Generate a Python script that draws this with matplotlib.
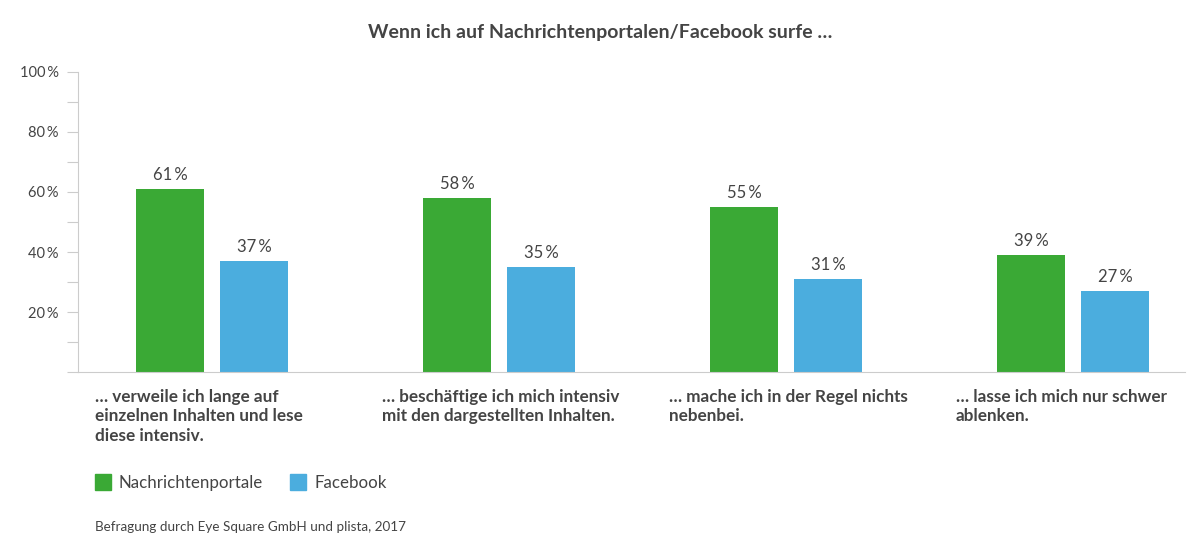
import numpy as np
import matplotlib.pyplot as plt
from matplotlib.patches import Rectangle

# -----------------------------------------------------------
# Data
# -----------------------------------------------------------
categories = [
    "… verweile ich lange auf\neinzelnen Inhalten und lese\ndiese intensiv.",
    "… beschäftige ich mich intensiv\nmit den dargestellten Inhalten.",
    "… mache ich in der Regel nichts\nnebenbei.",
    "… lasse ich mich nur schwer\nablenken.",
]
nachrichten = [61, 58, 55, 39]
facebook = [37, 35, 31, 27]
series_names = ["Nachrichtenportale", "Facebook"]

GREEN = "#3aa935"
BLUE = "#4badde"
TEXT = "#444444"
GRID = "#cccccc"

plt.rcParams["font.family"] = ["Lato", "DejaVu Sans"]

# -----------------------------------------------------------
# Plot
# -----------------------------------------------------------
fig = plt.figure(figsize=(12, 5.55), dpi=100)
ax = fig.add_axes([0.065, 0.3297, 0.9225, 0.5406])

x = np.arange(len(categories))
width = 0.237
offset = 0.146

b1 = ax.bar(x - offset, nachrichten, width, color=GREEN)
b2 = ax.bar(x + offset, facebook, width, color=BLUE)

for bars, vals in ((b1, nachrichten), (b2, facebook)):
    for rect, v in zip(bars, vals):
        ax.text(rect.get_x() + rect.get_width() / 2, v + 2.0, f"{v}\u2009%",
                ha="center", va="bottom", fontsize=12, color=TEXT)

ax.set_xlim(-0.467, 3.39)
ax.set_ylim(0, 100)
ax.set_yticks(np.arange(0, 101, 10))
ax.set_yticklabels(["" if (t % 20 or t == 0) else f"{t}\u2009%" for t in range(0, 101, 10)])
ax.tick_params(axis="y", length=8, color=GRID, labelsize=10.5, labelcolor=TEXT, pad=6)
ax.set_xticks([])

for s in ("top", "right"):
    ax.spines[s].set_visible(False)
ax.spines["left"].set_color(GRID)
ax.spines["bottom"].set_color(GRID)

# category labels under the groups
for xi, lab in zip(x, categories):
    ax.text(xi - 0.408, -0.055, lab, ha="left", va="top", fontsize=12.3,
            fontweight="bold", color=TEXT, linespacing=1.3,
            transform=ax.get_xaxis_transform())

# title
fig.text(0.5, 0.942, "Wenn ich auf Nachrichtenportalen/Facebook surfe …",
         ha="center", va="center", fontsize=14, fontweight="bold", color=TEXT)

# legend (manual)
for px, color, name in ((95, GREEN, series_names[0]), (290, BLUE, series_names[1])):
    fig.patches.append(Rectangle((px / 1200, 1 - 490 / 555), 16 / 1200, 16 / 555,
                                 transform=fig.transFigure, color=color))
    fig.text((px + 24) / 1200, 1 - 483 / 555, name, ha="left", va="center",
             fontsize=12.2, color=TEXT)

# source
fig.text(95 / 1200, 1 - 527 / 555, "Befragung durch Eye Square GmbH und plista, 2017",
         ha="left", va="center", fontsize=9.7, color=TEXT)

plt.savefig("out.png", dpi=100)
